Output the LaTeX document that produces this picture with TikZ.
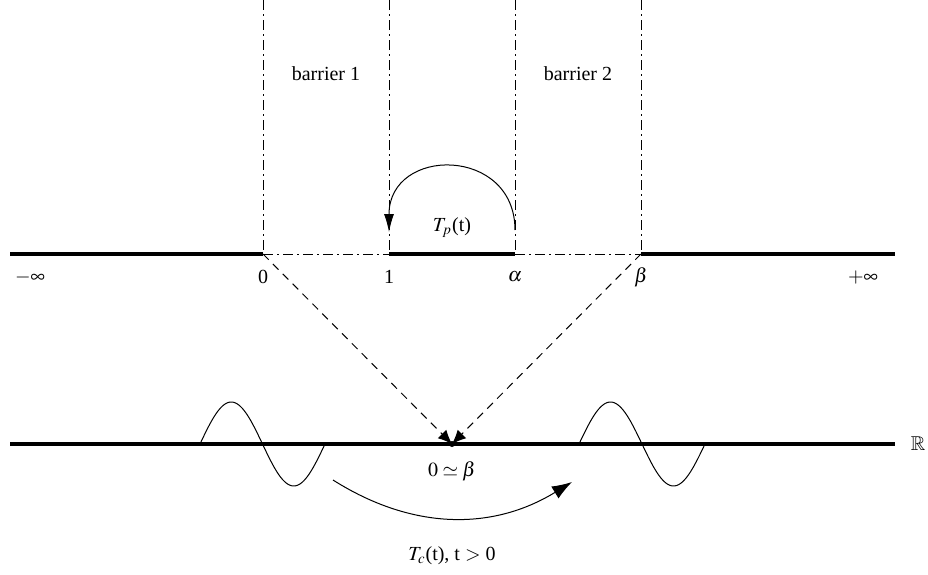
\documentclass[tikz,border=0pt]{standalone}
\usepackage{amssymb}
\usepackage{mathptmx}
\usepackage{fontspec}
\setmainfont{Liberation Serif}
\usetikzlibrary{arrows.meta}
\begin{document}
\begin{tikzpicture}[x=0.5pt,y=-0.5pt,
  thickline/.style={line width=2pt},
  thinline/.style={line width=0.5pt},
  dashdot/.style={line width=0.5pt,dash pattern=on 5pt off 2pt on 1pt off 2pt},
  dasharrow/.style={line width=0.5pt,dash pattern=on 4pt off 3pt,-{Latex[length=7pt,width=6pt]}},
  lbl/.style={inner sep=0pt,font=\fontsize{10}{12}\selectfont}]
\useasboundingbox (0,0) rectangle (928,574);
% points
\coordinate (L) at (10,254);
\coordinate (p0) at (263,254);
\coordinate (p1) at (389,254);
\coordinate (pa) at (515,254);
\coordinate (pb) at (641,254);
\coordinate (R) at (895,254);
\coordinate (t0) at (263,0);
\coordinate (t1) at (389,0);
\coordinate (ta) at (515,0);
\coordinate (tb) at (641,0);
\coordinate (BL) at (10,444);
\coordinate (BR) at (895,444);
\coordinate (Z) at (452,444);
% top line
\draw[thickline] (L) -- (p0);
\draw[thickline] (p1) -- (pa);
\draw[thickline] (pb) -- (R);
\draw[dashdot] (p0) -- (p1);
\draw[dashdot] (pa) -- (pb);
\draw[dashdot] (t0) -- (p0);
\draw[dashdot] (t1) -- (p1);
\draw[dashdot] (ta) -- (pa);
\draw[dashdot] (tb) -- (pb);
% labels
\node[lbl] (lminf) at (30,277) {$-\infty$};
\node[lbl] (l0) at (263,277) {0};
\node[lbl] (l1) at (389,277) {1};
\node[lbl] (la) at (515,277) {$\alpha$};
\node[lbl] (lb) at (641,277) {$\beta$};
\node[lbl] (lpinf) at (863,277) {$+\infty$};
\node[lbl] (b1) at (326,74) {barrier 1};
\node[lbl] (b2) at (578,74) {barrier 2};
\node[lbl] (tp) at (452,228) {$T_p$(t)};
% semicircle arrow
\coordinate (as) at (515,230);
\coordinate (ae) at (389,232);
\draw[thinline,-{Latex[length=9pt,width=5pt]}] (as) .. controls (515,146) and (389,146) .. (ae);
% bottom line
\draw[thickline] (BL) -- (BR);
\node[lbl] (RR) at (918,444) {$\mathbb{R}$};
\fill (Z) circle[radius=3];
\draw[dasharrow] (p0) -- (Z);
\draw[dasharrow] (pb) -- (Z);
\node[lbl] (zb) at (452,471) {$0\simeq\beta$};
% sine waves
\draw[thinline] plot[domain=0:360,samples=72,smooth] ({200+\x/360*125},{444-42*sin(\x)});
\draw[thinline] plot[domain=0:360,samples=72,smooth] ({579+\x/360*126},{444-42*sin(\x)});
% curved arrow
\coordinate (cs) at (333,480);
\coordinate (ce) at (572,482);
\draw[thinline,-{Latex[length=10pt,width=7pt]}] (cs) .. controls (412,530) and (492,531) .. (ce);
\node[lbl] (tc) at (452,556) {$T_c$(t), t $>$ 0};
\end{tikzpicture}
\end{document}
